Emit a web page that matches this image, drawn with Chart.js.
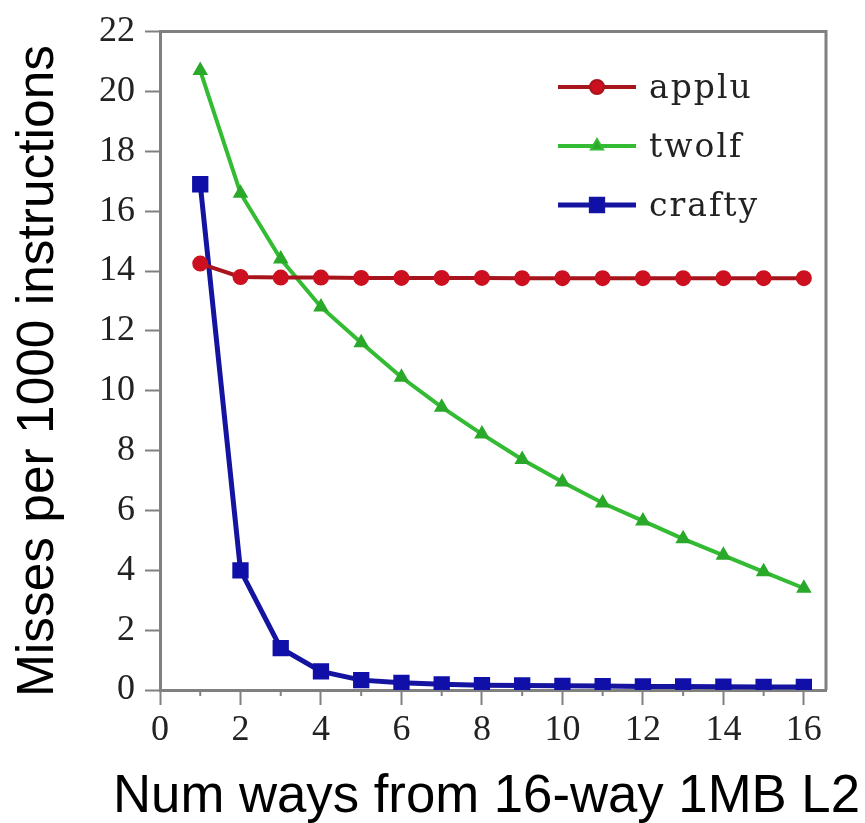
<!DOCTYPE html>
<html>
<head>
<meta charset="utf-8">
<script src="https://cdn.jsdelivr.net/npm/chart.js@4/dist/chart.umd.min.js"></script>
<style>
  html, body { margin: 0; padding: 0; background: #fff; }
  #wrap { width: 865px; height: 823px; }
</style>
</head>
<body>
<div id="wrap"><canvas id="chart" width="865" height="823"></canvas></div>
<script>
'use strict';

// --- data ---
const ways = [1, 2, 3, 4, 5, 6, 7, 8, 9, 10, 11, 12, 13, 14, 15, 16];
const applu = [14.25, 13.8, 13.78, 13.78, 13.77, 13.77, 13.77, 13.77, 13.76, 13.76, 13.76, 13.76, 13.76, 13.76, 13.76, 13.76];
const twolf = [20.7, 16.6, 14.4, 12.8, 11.6, 10.45, 9.45, 8.55, 7.7, 6.95, 6.25, 5.65, 5.05, 4.5, 3.95, 3.4];
const crafty = [16.9, 4.0, 1.4, 0.62, 0.33, 0.24, 0.19, 0.16, 0.15, 0.14, 0.13, 0.12, 0.12, 0.11, 0.1, 0.1];
const seriesNames = ['applu', 'twolf', 'crafty'];
const yTicks = [0, 2, 4, 6, 8, 10, 12, 14, 16, 18, 20, 22];
const xTicks = [0, 2, 4, 6, 8, 10, 12, 14, 16];
const xTitle = 'Num ways from 16-way 1MB L2';
const yTitle = 'Misses per 1000 instructions';

const AXIS = '#808080';
const TITLE_FONT = '"Liberation Sans", Arial, sans-serif';
const pts = arr => ways.map((w, i) => ({ x: w, y: arr[i] }));

// frame on top/right, short minor ticks on odd x, axis titles
const framePlugin = {
    id: 'frame',
    afterDraw(chart) {
        const { ctx, chartArea: a } = chart;
        const xs = chart.scales.x;
        ctx.save();
        ctx.strokeStyle = AXIS;
        ctx.lineWidth = 3;
        ctx.beginPath();
        ctx.moveTo(a.left, a.top);
        ctx.lineTo(a.right, a.top);
        ctx.lineTo(a.right, a.bottom);
        ctx.stroke();
        ctx.lineWidth = 2;
        for (let v = 1; v < 16; v += 2) {
            const px = xs.getPixelForValue(v);
            ctx.beginPath();
            ctx.moveTo(px, a.bottom);
            ctx.lineTo(px, a.bottom + 6);
            ctx.stroke();
        }
        ctx.restore();

        // x title: slightly wide, as in the original
        ctx.save();
        ctx.fillStyle = '#000';
        ctx.font = '54px ' + TITLE_FONT;
        ctx.textBaseline = 'alphabetic';
        ctx.textAlign = 'left';
        const w = ctx.measureText(xTitle).width;
        ctx.translate(113, 812);
        ctx.scale(747 / w, 1);
        ctx.fillText(xTitle, 0, 0);
        ctx.restore();

        // y title, rotated
        ctx.save();
        ctx.fillStyle = '#000';
        ctx.font = '52px ' + TITLE_FONT;
        ctx.textBaseline = 'alphabetic';
        ctx.textAlign = 'left';
        const wy = ctx.measureText(yTitle).width;
        ctx.translate(53, 697);
        ctx.rotate(-Math.PI / 2);
        ctx.scale(652 / wy, 1);
        ctx.fillText(yTitle, 0, 0);
        ctx.restore();
    }
};

// legend drawn inside plot, top right
const legendPlugin = {
    id: 'insideLegend',
    afterDatasetsDraw(chart) {
        const ctx = chart.ctx;
        const x0 = 558, x1 = 636, tx = 649;
        ctx.save();
        chart.data.datasets.forEach((ds, i) => {
            const y = 87 + i * 59;
            ctx.strokeStyle = ds.borderColor;
            ctx.lineWidth = ds.borderWidth;
            ctx.beginPath();
            ctx.moveTo(x0, y);
            ctx.lineTo(x1, y);
            ctx.stroke();
            Chart.helpers.drawPoint(ctx, {
                pointStyle: ds.pointStyle, radius: ds.pointRadius, rotation: 0, borderWidth: 1
            }, (x0 + x1) / 2, y);
            ctx.fillStyle = ds.pointBackgroundColor;
            ctx.fill();
            ctx.fillStyle = '#222';
            ctx.font = '33px "DejaVu Serif", serif';
            ctx.letterSpacing = '2px';
            ctx.textBaseline = 'middle';
            ctx.textAlign = 'left';
            ctx.fillText(seriesNames[i], tx, y + 2);
        });
        ctx.restore();
    }
};

new Chart(document.getElementById('chart'), {
    type: 'line',
    data: {
        datasets: [{
            label: seriesNames[0],
            data: pts(applu),
            borderColor: '#a8141c',
            backgroundColor: '#cc1020',
            pointBackgroundColor: '#cc1020',
            pointBorderColor: '#cc1020',
            borderWidth: 4,
            pointStyle: 'circle',
            pointRadius: 6
        }, {
            label: seriesNames[1],
            data: pts(twolf),
            borderColor: '#33bb33',
            backgroundColor: '#2aa82a',
            pointBackgroundColor: '#2aa82a',
            pointBorderColor: '#2aa82a',
            borderWidth: 4,
            pointStyle: 'triangle',
            pointRadius: 5
        }, {
            label: seriesNames[2],
            data: pts(crafty),
            borderColor: '#1414a0',
            backgroundColor: '#1010a8',
            pointBackgroundColor: '#1010a8',
            pointBorderColor: '#1010a8',
            borderWidth: 5,
            pointStyle: 'rect',
            pointRadius: 8
        }]
    },
    options: {
        responsive: false,
        animation: false,
        layout: { padding: { top: 25, right: 39, left: 0, bottom: 0 } },
        plugins: { legend: { display: false }, tooltip: { enabled: false } },
        scales: {
            x: {
                type: 'linear',
                min: 0,
                max: 16.55,
                afterBuildTicks: s => { s.ticks = xTicks.map(v => ({ value: v })); },
                afterFit: s => { s.height = 133; },
                grid: { drawOnChartArea: false, drawTicks: true, tickLength: 15, tickColor: AXIS, tickWidth: 2 },
                border: { display: true, color: AXIS, width: 3 },
                ticks: {
                    color: '#222',
                    padding: 4,
                    maxRotation: 0,
                    font: { family: '"Liberation Serif", serif', size: 36 }
                },
                title: { display: false }
            },
            y: {
                min: 0,
                max: 22,
                afterBuildTicks: s => { s.ticks = yTicks.map(v => ({ value: v })); },
                afterFit: s => { s.width = 160; },
                grid: { drawOnChartArea: false, drawTicks: true, tickLength: 15, tickColor: AXIS, tickWidth: 2 },
                border: { display: true, color: AXIS, width: 3 },
                ticks: {
                    color: '#222',
                    padding: 10,
                    font: { family: '"Liberation Serif", serif', size: 36 }
                },
                title: { display: false }
            }
        }
    },
    plugins: [framePlugin, legendPlugin]
});
</script>
</body>
</html>
